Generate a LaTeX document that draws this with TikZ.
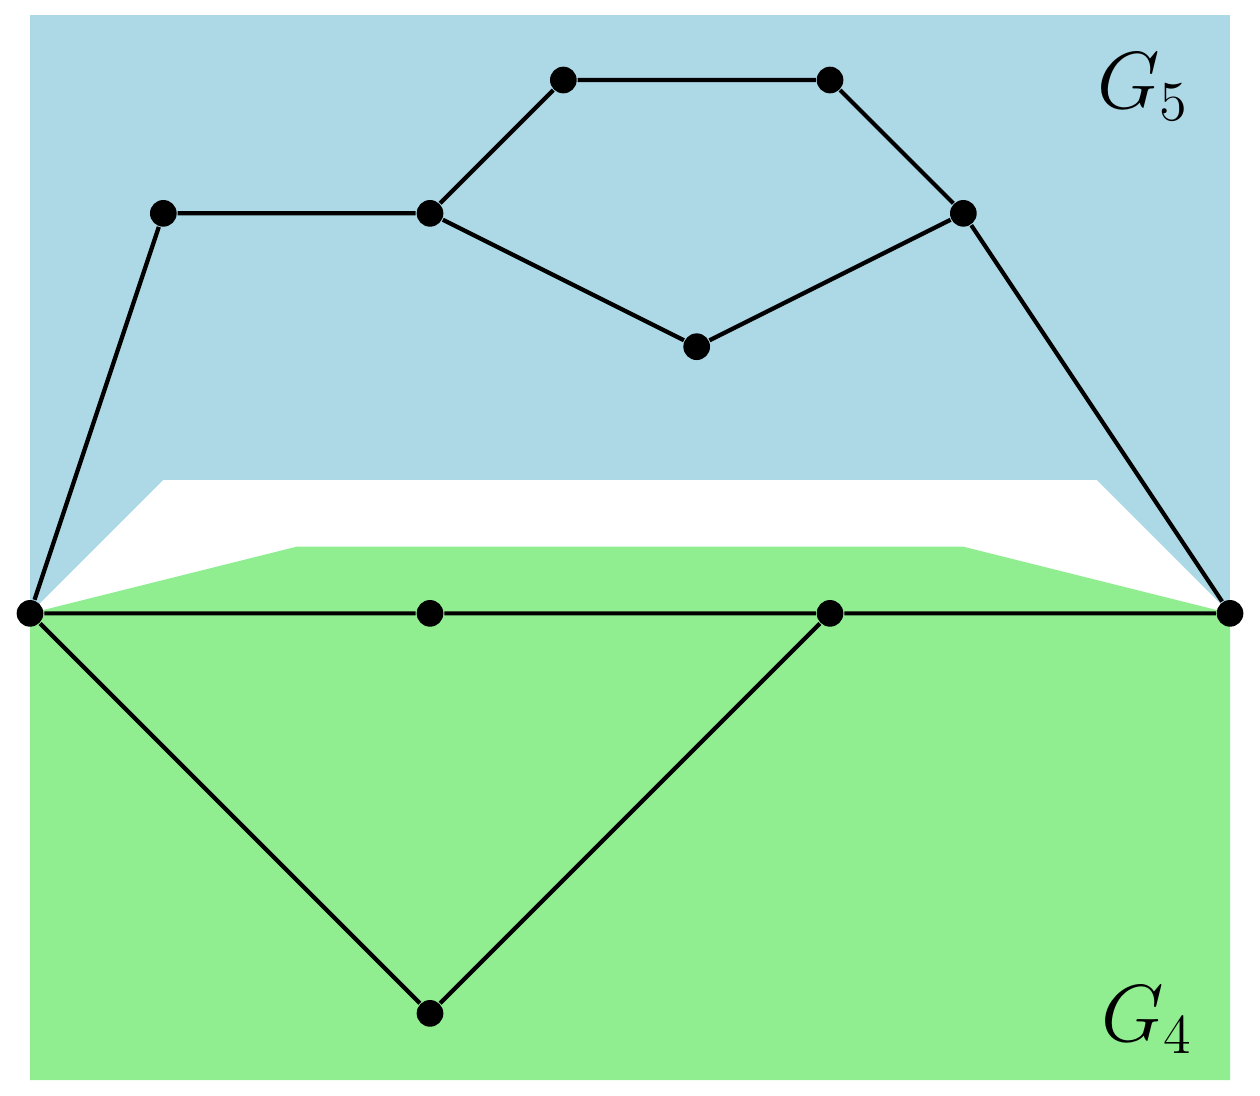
\documentclass[tikz,border=0pt]{standalone}
\begin{document}
\begin{tikzpicture}
\definecolor{lb}{RGB}{173,216,230}
\definecolor{lg}{RGB}{144,238,144}
\tikzset{v/.style={circle,fill=black,inner sep=0pt,minimum size=0.2cm},e/.style={line width=0.9pt}}
\useasboundingbox (-0.225,-3.615) rectangle (9.225,4.6);
\fill[lb] (0,0) rectangle (9,4.49);
\fill[white] (0,0) -- (1,1) -- (8,1) -- (9,0) -- cycle;
\fill[lg] (0,0) -- (2,0.5) -- (7,0.5) -- (9,0) -- (9,-3.5) -- (0,-3.5) -- cycle;
\node[v] (a) at (0,0) {};
\node[v] (b) at (3,0) {};
\node[v] (c) at (6,0) {};
\node[v] (d) at (9,0) {};
\node[v] (e) at (3,-3) {};
\node[v] (f) at (1,3) {};
\node[v] (g) at (3,3) {};
\node[v] (h) at (4,4) {};
\node[v] (i) at (6,4) {};
\node[v] (j) at (7,3) {};
\node[v] (k) at (5,2) {};
\draw[e] (a)--(f) (f)--(g) (g)--(h) (h)--(i) (i)--(j) (g)--(k) (k)--(j) (j)--(d)
 (a)--(b) (b)--(c) (c)--(d) (a)--(e) (e)--(c);
\node[font=\LARGE] (g5) at (8.35,3.95) {$G_5$};
\node[font=\LARGE] (g4) at (8.38,-3.05) {$G_4$};
\end{tikzpicture}
\end{document}
